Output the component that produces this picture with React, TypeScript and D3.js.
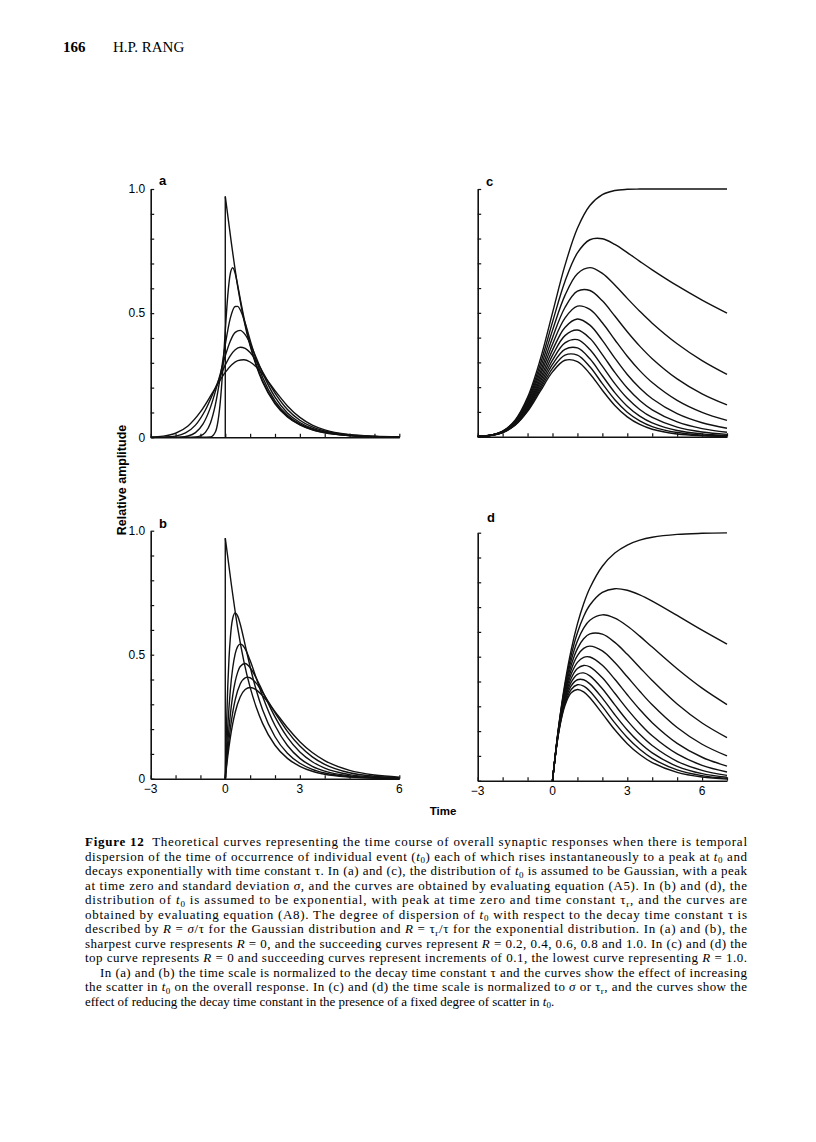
import * as d3 from 'd3'
import { useEffect, useRef } from 'react'

type Pt = [number, number]

// ---------- values ----------
// (a) Gaussian scatter of t0, time in units of tau, R = sigma/tau
const rStepsAB = [0, 0.2, 0.4, 0.6, 0.8, 1.0]
const sharpCurve: Pt[] = [[0, 0.97], [0.25, 0.779], [0.5, 0.607], [0.75, 0.472], [1, 0.368], [1.25, 0.287], [1.5, 0.223], [2, 0.135], [2.5, 0.082], [3, 0.05], [3.5, 0.03], [4, 0.018], [5, 0.007], [6, 0.0025], [7, 0.0009]]
const gaussR02: Pt[] = [[-1, 0], [-0.6, 0.0013], [-0.4, 0.0212], [-0.3, 0.0614], [-0.2, 0.1434], [-0.1, 0.2729], [0, 0.4292], [0.1, 0.5704], [0.2, 0.6583], [0.3, 0.6826], [0.4, 0.6593], [0.5, 0.6122], [0.6, 0.5584], [0.8, 0.4584], [1, 0.3753], [1.25, 0.2923], [1.5, 0.2276], [2, 0.1381], [2.5, 0.0837], [3, 0.0508], [3.5, 0.0308], [4, 0.0187], [5, 0.0069], [6, 0.0025], [7, 0.0009]]
const gaussR04: Pt[] = [[-1.6, 0], [-1.2, 0.0012], [-1, 0.0055], [-0.8, 0.0198], [-0.6, 0.0567], [-0.4, 0.1306], [-0.2, 0.2436], [0, 0.3733], [0.2, 0.4787], [0.4, 0.5269], [0.5, 0.5271], [0.6, 0.5138], [0.8, 0.4601], [1, 0.3914], [1.25, 0.3094], [1.5, 0.2416], [2, 0.1466], [2.5, 0.0889], [3, 0.0539], [3.5, 0.0327], [4, 0.0198], [5, 0.0073], [6, 0.0027], [7, 0.001]]
const gaussR06: Pt[] = [[-2.4, 0], [-1.8, 0.0012], [-1.5, 0.0052], [-1.2, 0.0187], [-0.9, 0.0527], [-0.6, 0.1195], [-0.3, 0.2193], [0, 0.3284], [0.2, 0.3871], [0.4, 0.4226], [0.6, 0.4306], [0.8, 0.4133], [1, 0.3774], [1.25, 0.3193], [1.5, 0.2594], [2, 0.1615], [2.5, 0.0983], [3, 0.0596], [3.5, 0.0362], [4, 0.0219], [5, 0.0081], [6, 0.003], [7, 0.0011]]
const gaussR08: Pt[] = [[-3, 0.0001], [-2.4, 0.0011], [-2, 0.0049], [-1.6, 0.0177], [-1.2, 0.0489], [-0.8, 0.11], [-0.4, 0.1988], [0, 0.2918], [0.2, 0.3283], [0.4, 0.3527], [0.6, 0.3629], [0.8, 0.3585], [1, 0.3412], [1.25, 0.3066], [1.5, 0.2639], [2, 0.1781], [2.5, 0.1119], [3, 0.0685], [3.5, 0.0416], [4, 0.0252], [5, 0.0093], [6, 0.0034], [7, 0.0013]]
const gaussR10: Pt[] = [[-3, 0.001], [-2.5, 0.0047], [-2, 0.0164], [-1.5, 0.0458], [-1, 0.1022], [-0.5, 0.1816], [0, 0.2617], [0.25, 0.291], [0.5, 0.3085], [0.75, 0.3125], [1, 0.3033], [1.25, 0.2828], [1.5, 0.2544], [2, 0.1877], [2.5, 0.1263], [3, 0.0802], [3.5, 0.0495], [4, 0.0302], [5, 0.0111], [6, 0.0041], [7, 0.0015]]

// (b) exponential scatter of t0, time in units of tau, R = tau_r/tau
const expR02: Pt[] = [[0, 0], [0.025, 0.116], [0.05, 0.2155], [0.1, 0.3729], [0.15, 0.4854], [0.2, 0.5635], [0.3, 0.6471], [0.4, 0.6688], [0.5, 0.6555], [0.6, 0.6238], [0.8, 0.5388], [1, 0.4515], [1.25, 0.3557], [1.5, 0.2782], [2, 0.1691], [2.5, 0.1026], [3, 0.0622], [3.5, 0.0378], [4, 0.0229], [5, 0.0084], [6, 0.0031], [7, 0.0011]]
const expR04: Pt[] = [[0, 0], [0.05, 0.1145], [0.1, 0.21], [0.2, 0.3537], [0.3, 0.4473], [0.4, 0.504], [0.5, 0.5333], [0.6, 0.5428], [0.7, 0.538], [0.8, 0.5233], [1, 0.4763], [1.25, 0.4043], [1.5, 0.3327], [2, 0.2143], [2.5, 0.1337], [3, 0.082], [3.5, 0.05], [4, 0.0305], [5, 0.0112], [6, 0.0041], [7, 0.0015]]
const expR06: Pt[] = [[0, 0], [0.05, 0.078], [0.1, 0.1458], [0.2, 0.2555], [0.3, 0.3358], [0.4, 0.3923], [0.5, 0.4298], [0.6, 0.4523], [0.8, 0.4643], [1, 0.4475], [1.25, 0.405], [1.5, 0.3525], [2, 0.249], [2.5, 0.1665], [3, 0.1078], [3.5, 0.0683], [4, 0.0425], [5, 0.0163], [6, 0.0062], [7, 0.0023]]
const expR08: Pt[] = [[0, 0], [0.05, 0.059], [0.1, 0.1115], [0.2, 0.1995], [0.3, 0.2675], [0.4, 0.319], [0.6, 0.382], [0.8, 0.407], [0.9, 0.4095], [1, 0.407], [1.25, 0.3845], [1.5, 0.3485], [2, 0.266], [2.5, 0.191], [3, 0.1315], [3.5, 0.088], [4, 0.058], [5, 0.024], [6, 0.0098], [7, 0.0038]]
const expR10: Pt[] = [[0, 0], [0.05, 0.0476], [0.1, 0.0905], [0.2, 0.1637], [0.3, 0.2222], [0.4, 0.2681], [0.6, 0.3293], [0.8, 0.3595], [1, 0.3679], [1.25, 0.3581], [1.5, 0.3347], [2, 0.2707], [2.5, 0.2052], [3, 0.1494], [3.5, 0.1057], [4, 0.0733], [5, 0.0337], [6, 0.0149], [7, 0.0064]]

// (c) Gaussian scatter, time in units of sigma, R = 0, 0.1 ... 1.0
const rStepsCD = [0, 0.1, 0.2, 0.3, 0.4, 0.5, 0.6, 0.7, 0.8, 0.9, 1.0]
const sigmaTimes = [-3, -2.5, -2, -1.5, -1, -0.5, 0, 0.5, 1, 1.5, 2, 2.5, 3, 3.5, 4, 5, 6, 7]
const sigmaValues = [
  [0.0013, 0.0062, 0.0228, 0.0668, 0.1587, 0.3085, 0.5, 0.6915, 0.8413, 0.9332, 0.9772, 0.9938, 0.9987, 0.9998, 1, 1, 1, 1],
  [0.0013, 0.006, 0.0219, 0.064, 0.1507, 0.2897, 0.4625, 0.6266, 0.742, 0.7951, 0.7992, 0.7763, 0.7431, 0.708, 0.6737, 0.6096, 0.5516, 0.4991],
  [0.0013, 0.0058, 0.0212, 0.0614, 0.1434, 0.2728, 0.4292, 0.5704, 0.6583, 0.6826, 0.6593, 0.6122, 0.5585, 0.5064, 0.4584, 0.3753, 0.3073, 0.2516],
  [0.0012, 0.0057, 0.0204, 0.0589, 0.1367, 0.2575, 0.3997, 0.5215, 0.5874, 0.5902, 0.5485, 0.4872, 0.4238, 0.3657, 0.3151, 0.2334, 0.1729, 0.1281],
  [0.0012, 0.0055, 0.0198, 0.0567, 0.1305, 0.2435, 0.3733, 0.4788, 0.527, 0.5138, 0.4601, 0.3914, 0.3248, 0.2668, 0.2187, 0.1466, 0.0983, 0.0659],
  [0.0012, 0.0053, 0.0191, 0.0546, 0.1248, 0.2308, 0.3496, 0.4412, 0.4752, 0.4504, 0.389, 0.3173, 0.2512, 0.1966, 0.1534, 0.093, 0.0564, 0.0342],
  [0.0012, 0.0052, 0.0185, 0.0526, 0.1195, 0.2193, 0.3283, 0.4081, 0.4306, 0.3972, 0.3315, 0.2594, 0.1963, 0.1463, 0.1086, 0.0596, 0.0327, 0.018],
  [0.0011, 0.0051, 0.018, 0.0508, 0.1147, 0.2086, 0.3091, 0.3788, 0.392, 0.3524, 0.2846, 0.214, 0.1548, 0.11, 0.0777, 0.0386, 0.0192, 0.0095],
  [0.0011, 0.0049, 0.0175, 0.049, 0.1101, 0.1989, 0.2918, 0.3527, 0.3584, 0.3144, 0.246, 0.1781, 0.1232, 0.0834, 0.0561, 0.0252, 0.0113, 0.0051],
  [0.0011, 0.0048, 0.017, 0.0474, 0.1059, 0.1899, 0.276, 0.3294, 0.3291, 0.2821, 0.2142, 0.1493, 0.099, 0.064, 0.041, 0.0167, 0.0068, 0.0028],
  [0.001, 0.0047, 0.0164, 0.0459, 0.102, 0.1816, 0.2616, 0.3085, 0.3033, 0.2544, 0.1877, 0.1263, 0.0802, 0.0495, 0.0302, 0.0111, 0.0041, 0.0015],
]

// (d) exponential scatter, time in units of tau_r, R = 0, 0.1 ... 1.0
const tauRTimes = [0, 0.25, 0.5, 0.75, 1, 1.25, 1.5, 2, 2.5, 3, 3.5, 4, 5, 6, 7]
const tauRValues = [
  [0, 0.2212, 0.3935, 0.5276, 0.6321, 0.7135, 0.7769, 0.8647, 0.9179, 0.9502, 0.9698, 0.9817, 0.9933, 0.9975, 0.9991],
  [0, 0.2183, 0.383, 0.5059, 0.5966, 0.6622, 0.7084, 0.7593, 0.7741, 0.7678, 0.7494, 0.7244, 0.6664, 0.607, 0.5508],
  [0, 0.2155, 0.3729, 0.4854, 0.5635, 0.6154, 0.6471, 0.6688, 0.6555, 0.6238, 0.583, 0.5388, 0.4515, 0.3734, 0.3071],
  [0, 0.2127, 0.3631, 0.4659, 0.5327, 0.5726, 0.5921, 0.5907, 0.5576, 0.5097, 0.4567, 0.4041, 0.3091, 0.2326, 0.1737],
  [0, 0.21, 0.3537, 0.4473, 0.504, 0.5333, 0.5428, 0.5233, 0.4763, 0.419, 0.3607, 0.306, 0.2143, 0.147, 0.0998],
  [0, 0.2074, 0.3446, 0.4298, 0.4772, 0.4976, 0.4986, 0.4652, 0.4088, 0.3466, 0.2872, 0.234, 0.1508, 0.0946, 0.0586],
  [0, 0.2048, 0.3358, 0.413, 0.4523, 0.4648, 0.4588, 0.4148, 0.3525, 0.2888, 0.2308, 0.181, 0.1078, 0.062, 0.0353],
  [0, 0.2023, 0.3273, 0.3973, 0.429, 0.4347, 0.4227, 0.371, 0.3057, 0.2423, 0.187, 0.1417, 0.0783, 0.0417, 0.0217],
  [0, 0.1995, 0.319, 0.382, 0.407, 0.407, 0.3905, 0.333, 0.266, 0.2045, 0.153, 0.1125, 0.058, 0.0285, 0.014],
  [0, 0.1972, 0.311, 0.3679, 0.3869, 0.3815, 0.3611, 0.2996, 0.2332, 0.1742, 0.1265, 0.09, 0.0437, 0.0204, 0.0093],
  [0, 0.1947, 0.3033, 0.3543, 0.3679, 0.3581, 0.3347, 0.2707, 0.2052, 0.1494, 0.1057, 0.0733, 0.0337, 0.0149, 0.0064],
]

// axis ticks and labels
const timeTicks = d3.range(-3, 8)
const ampTicks = d3.range(0, 11).map((i) => i / 10)
const ampLabelAt = [1, 0.5, 0]
const ampLabelText = ['1.0', '0.5', '0']
const timeLabelText = ['\u22123', '0', '3', '6']
const timeLabelAtB = [-3, 0, 3, 7] // the printed "6" sits at the end of the axis in (b)
const timeLabelAtD = [-3, 0, 3, 6]

const captionLines = [
  '**Figure 12**  Theoretical curves representing the time course of overall synaptic responses when there is temporal',
  'dispersion of the time of occurrence of individual event ({t0}) each of which rises instantaneously to a peak at {t0} and',
  'decays exponentially with time constant \u03c4. In (a) and (c), the distribution of {t0} is assumed to be Gaussian, with a peak',
  'at time zero and standard deviation {\u03c3}, and the curves are obtained by evaluating equation (A5). In (b) and (d), the',
  'distribution of {t0} is assumed to be exponential, with peak at time zero and time constant {\u03c4r}, and the curves are',
  'obtained by evaluating equation (A8). The degree of dispersion of {t0} with respect to the decay time constant \u03c4 is',
  'described by {R} = {\u03c3}/\u03c4 for the Gaussian distribution and {R} = {\u03c4r}/\u03c4 for the exponential distribution. In (a) and (b), the',
  'sharpest curve respresents {R} = 0, and the succeeding curves represent {R} = 0.2, 0.4, 0.6, 0.8 and 1.0. In (c) and (d) the',
  'top curve represents {R} = 0 and succeeding curves represent increments of 0.1, the lowest curve representing {R} = 1.0.',
  'In (a) and (b) the time scale is normalized to the decay time constant \u03c4 and the curves show the effect of increasing',
  'the scatter in {t0} on the overall response. In (c) and (d) the time scale is normalized to {\u03c3} or {\u03c4r}, and the curves show the',
  'effect of reducing the decay time constant in the presence of a fixed degree of scatter in {t0}.',
]

const sans = '"Liberation Sans", Arial, Helvetica, sans-serif'
const serif = '"Liberation Serif", "Times New Roman", serif'

const toPairs = (times: number[], rows: number[][]) => rows.map((row) => row.map((v, i) => [times[i], v] as Pt))

const panels = [
  { letter: 'a', x0: 150.7, x1: 399.3, y0: 437.3, y1: 189, lx: 159, ly: 185, series: [sharpCurve, gaussR02, gaussR04, gaussR06, gaussR08, gaussR10], smooth: d3.curveMonotoneX, spike: true, ampLabels: true, timeLabels: null as number[] | null },
  { letter: 'b', x0: 150.7, x1: 399.3, y0: 778.7, y1: 530.7, lx: 159, ly: 528, series: [sharpCurve, expR02, expR04, expR06, expR08, expR10], smooth: d3.curveMonotoneX, spike: true, ampLabels: true, timeLabels: timeLabelAtB },
  { letter: 'c', x0: 477.7, x1: 727, y0: 436.7, y1: 189, lx: 486, ly: 186, series: toPairs(sigmaTimes, sigmaValues), smooth: d3.curveCatmullRom.alpha(0.5), spike: false, ampLabels: false, timeLabels: null },
  { letter: 'd', x0: 477.7, x1: 727, y0: 780.7, y1: 532.7, lx: 487, ly: 522, series: toPairs(tauRTimes, tauRValues), smooth: d3.curveCatmullRom.alpha(0.5), spike: false, ampLabels: false, timeLabels: timeLabelAtD },
]

// turns {t0}, {R}, {σ}, {τr} and **bold** into tspans
function rich(src: string) {
  const out: any[] = []
  let lift = 0
  src.split(/(\{[^}]+\}|\*\*[^*]+\*\*)/).forEach((s, i) => {
    if (!s) return
    const dy = lift ? -lift : undefined
    lift = 0
    if (s.startsWith('**')) {
      out.push(<tspan key={i} dy={dy} fontWeight="bold">{s.slice(2, -2)}</tspan>)
    } else if (s.startsWith('{')) {
      const tok = s.slice(1, -1)
      const base = tok[0]
      const sub = tok.slice(1)
      out.push(<tspan key={i + 'a'} dy={dy} fontStyle={base === '\u03c4' ? 'normal' : 'italic'}>{base}</tspan>)
      if (sub) {
        out.push(<tspan key={i + 'b'} dy={2.5} fontSize={9}>{sub}</tspan>)
        lift = 2.5
      }
    } else {
      out.push(<tspan key={i} dy={dy}>{s}</tspan>)
    }
  })
  return out
}

export default function App() {
  const chartRef = useRef<SVGGElement>(null)

  useEffect(() => {
    const root = d3.select(chartRef.current)
    root.selectAll('*').remove()

    panels.forEach((p) => {
      const x = d3.scaleLinear().domain([-3, 7]).range([p.x0, p.x1])
      const y = d3.scaleLinear().domain([0, 1]).range([p.y0, p.y1])
      const g = root.append('g')

      // ticks point into the plot
      g.append('g')
        .attr('transform', `translate(0,${p.y0})`)
        .call(d3.axisBottom(x).tickValues(timeTicks).tickSizeInner(-3.5).tickSizeOuter(0))
      g.append('g')
        .attr('transform', `translate(${p.x0},0)`)
        .call(d3.axisLeft(y).tickValues(ampTicks).tickSizeInner(-3.5).tickSizeOuter(0))
      g.selectAll('.tick text').remove()
      g.selectAll('.domain').attr('stroke', '#111').attr('stroke-width', 1.6)
      g.selectAll('.tick line').attr('stroke', '#111').attr('stroke-width', 1.2)

      const line = d3.line<Pt>().x((d) => x(d[0])).y((d) => y(d[1])).curve(p.smooth)

      g.selectAll('path.curve')
        .data(p.series)
        .join('path')
        .attr('class', 'curve')
        .attr('d', (d) => line(d))
        .attr('fill', 'none')
        .attr('stroke', '#111')
        .attr('stroke-width', 1.4)

      if (p.spike) {
        const top = p.series[0][0]
        g.append('line')
          .attr('x1', x(top[0])).attr('x2', x(top[0]))
          .attr('y1', y(0)).attr('y2', y(top[1]))
          .attr('stroke', '#111').attr('stroke-width', 1.4)
      }

      if (p.ampLabels) {
        g.selectAll('text.amp')
          .data(ampLabelAt)
          .join('text')
          .attr('class', 'amp')
          .attr('x', p.x0 - 5.5)
          .attr('y', (d) => y(d) + 4.3)
          .attr('text-anchor', 'end')
          .style('font-family', sans)
          .style('font-size', '12px')
          .text((_, i) => ampLabelText[i])
      }

      if (p.timeLabels) {
        g.selectAll('text.time')
          .data(p.timeLabels)
          .join('text')
          .attr('class', 'time')
          .attr('x', (d) => x(d))
          .attr('y', p.y0 + 14.5)
          .attr('text-anchor', 'middle')
          .style('font-family', sans)
          .style('font-size', '12px')
          .text((_, i) => timeLabelText[i])
      }

      g.append('text')
        .attr('x', p.lx)
        .attr('y', p.ly)
        .style('font-family', sans)
        .style('font-size', '13px')
        .style('font-weight', 'bold')
        .text(p.letter)
    })
  }, [])

  return (
    <svg
      width={816}
      height={1142}
      style={{ position: 'absolute', left: 0, top: 0, background: '#fff' }}
    >
      <text x={63} y={52} fontFamily={serif} fontSize={15} fontWeight="bold">166</text>
      <text x={113} y={52} fontFamily={serif} fontSize={15}>H.P. RANG</text>

      <g ref={chartRef} data-r-ab={rStepsAB.join(',')} data-r-cd={rStepsCD.join(',')} />

      <text
        transform="translate(125.5,480) rotate(-90)"
        textAnchor="middle"
        fontFamily={sans}
        fontSize={12.5}
        fontWeight="bold"
      >
        Relative amplitude
      </text>
      <text x={443} y={815} textAnchor="middle" fontFamily={sans} fontSize={11.5} fontWeight="bold">Time</text>

      {captionLines.map((l, i) => {
        const last = i === captionLines.length - 1
        const indent = i === 9 ? 15 : 0
        return (
          <text
            key={i}
            x={85 + indent}
            y={846 + i * 14.5}
            fontFamily={serif}
            fontSize={13}
            style={{ whiteSpace: 'pre' }}
            textLength={last ? undefined : 662 - indent}
            lengthAdjust={last ? undefined : 'spacing'}
          >
            {rich(l)}
          </text>
        )
      })}
    </svg>
  )
}
